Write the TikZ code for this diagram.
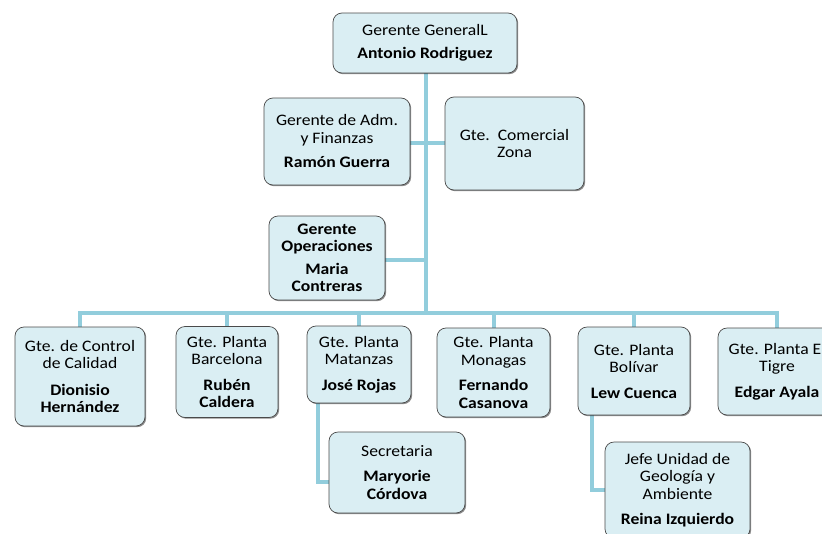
\documentclass[tikz,border=0pt]{standalone}
\usepackage{fontspec}
\setmainfont[FakeStretch=1.1]{Carlito}
\usetikzlibrary{shadows}
\definecolor{boxfill}{HTML}{DAEEF3}
\definecolor{boxdraw}{HTML}{4A4A4A}
\definecolor{linkblue}{HTML}{92CDDC}
\tikzset{
  orgbox/.style={draw=boxdraw, line width=0.7pt, fill=boxfill, rounded corners=9pt,
    align=center, inner sep=0pt, font=\fontsize{16}{17.5}\selectfont,
    drop shadow={shadow xshift=1.2pt, shadow yshift=-1.2pt, opacity=0.45, fill=black}},
  link/.style={draw=linkblue, line width=4.5pt}
}
\begin{document}
\begin{tikzpicture}[x=1pt,y=-1pt]
\useasboundingbox (0,0) rectangle (822,533);
\clip (0,0) rectangle (822,533);
% connectors first
\coordinate (bus) at (426,313);
\coordinate (trunktop) at (426,73);
\coordinate (matdrop) at (318,403);
\coordinate (boldrop) at (592,415);
\coordinate (secin) at (329,482);
\coordinate (jefin) at (605,490);
\draw[link] (trunktop) -- (bus);
\draw[link] (80,327) |- (bus) -| (777,328);
\draw[link] (227,327) -- (227,313);
\draw[link] (359,326) -- (359,313);
\draw[link] (494,328) -- (494,313);
\draw[link] (634,327) -- (634,313);
\draw[link] (410,143) -- (445,143);
\draw[link] (385,260) -- (426,260);
\draw[link] (matdrop) |- (secin);
\draw[link] (boldrop) |- (jefin);
% boxes
\node[orgbox, minimum width=184pt, minimum height=60pt] (gg) at (425,43)
  {Gerente GeneralL\\[6pt]\textbf{Antonio Rodriguez}};
\node[orgbox, minimum width=146pt, minimum height=87pt] (adm) at (337,141.5)
  {Gerente de Adm.\\y Finanzas\\[7pt]\textbf{Ramón Guerra}};
\node[orgbox, minimum width=139pt, minimum height=93pt] (com) at (514.5,143.5)
  {Gte.\ \ Comercial\\Zona};
\node[orgbox, minimum width=116pt, minimum height=84pt] (ope) at (327,258)
  {\textbf{Gerente}\\\textbf{Operaciones}\\[5pt]\textbf{Maria}\\\textbf{Contreras}};
\node[orgbox, minimum width=130pt, minimum height=99pt] (cal) at (80,376.5)
  {Gte. de Control\\de Calidad\\[9pt]\textbf{Dionisio}\\\textbf{Hernández}};
\node[orgbox, minimum width=102pt, minimum height=91pt] (bar) at (227,372)
  {Gte. Planta\\Barcelona\\[8pt]\textbf{Rubén}\\\textbf{Caldera}};
\node[orgbox, minimum width=104pt, minimum height=77pt] (mat) at (359,364.5)
  {Gte. Planta\\Matanzas\\[8pt]\textbf{José Rojas}};
\node[orgbox, minimum width=113pt, minimum height=89pt] (mon) at (493.5,372.5)
  {Gte. Planta\\Monagas\\[8pt]\textbf{Fernando}\\\textbf{Casanova}};
\node[orgbox, minimum width=112pt, minimum height=88pt] (bol) at (634,371)
  {Gte. Planta\\Bolívar\\[8pt]\textbf{Lew Cuenca}};
\node[orgbox, minimum width=118pt, minimum height=87pt] (tig) at (777,371.5)
  {Gte. Planta El\\Tigre\\[8pt]\textbf{Edgar Ayala}};
\node[orgbox, minimum width=136pt, minimum height=81pt] (sec) at (397,472.5)
  {Secretaria\\[8pt]\textbf{Maryorie}\\\textbf{Córdova}};
\node[orgbox, minimum width=145pt, minimum height=96pt] (jef) at (677.5,490)
  {Jefe Unidad de\\Geología y\\Ambiente\\[8pt]\textbf{Reina Izquierdo}};
\end{tikzpicture}
\end{document}
